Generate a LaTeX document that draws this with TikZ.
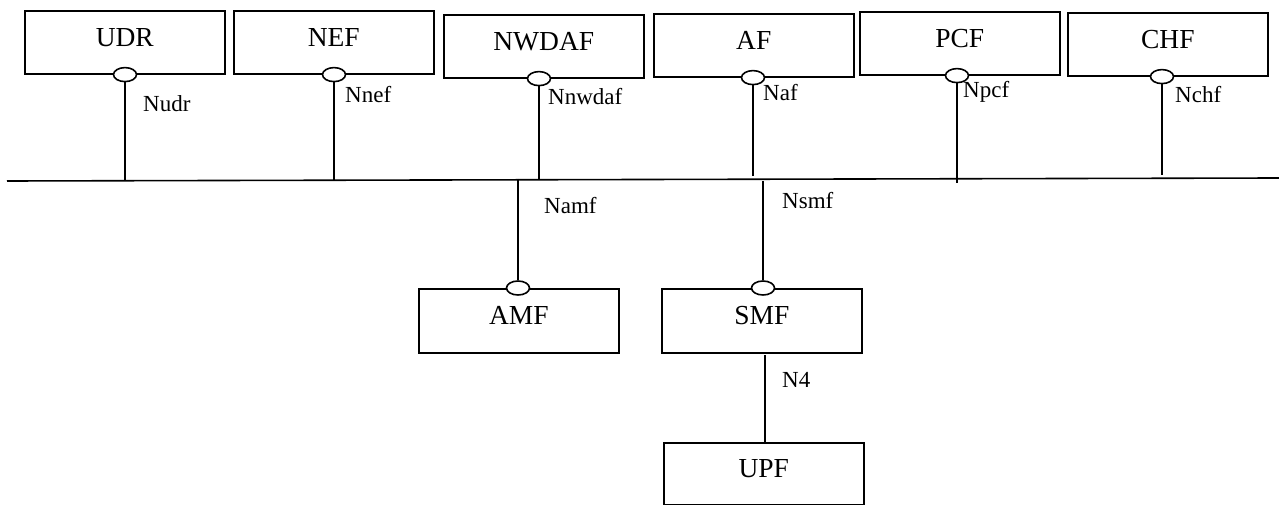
\documentclass[tikz,border=0pt]{standalone}
\usepackage{fontspec}
\setmainfont{Liberation Serif}
\usetikzlibrary{shapes.geometric}

\tikzset{
	nfbox/.style = {draw, line width = 1.6pt, anchor = north west, minimum width = 200pt, minimum height = 63pt, inner sep = 0pt, text height = 18pt, text depth = 10pt, font = \fontsize{27.5}{30}\selectfont},
	port/.style = {draw, ellipse, line width = 1.6pt, fill = white, minimum width = 23pt, minimum height = 14pt, inner sep = 0pt},
	link/.style = {line width = 1.6pt},
	iflabel/.style = {anchor = base west, inner sep = 0pt, font = \fontsize{23}{26}\selectfont}
}

\begin{document}
\begin{tikzpicture}[x = 1pt, y = -1pt]
	\useasboundingbox (0,0) rectangle (1279,505);

	% service bus
	\coordinate (busw) at (7,181);
	\coordinate (buse) at (1279,178);
	\draw [link] (busw) -- (buse);

	% functions above the bus
	\foreach \nm/\txt/\x/\y/\px/\by/\lab/\lx/\ly in
		{udr/UDR/24/10/125/181/Nudr/143/112,
		 nef/NEF/233/10/334/181/Nnef/345/103,
		 nwdaf/NWDAF/443/14/539/180/Nnwdaf/548/105,
		 af/AF/653/13/753/176/Naf/763/101,
		 pcf/PCF/859/11/957/183/Npcf/963/98,
		 chf/CHF/1067/12/1162/175/Nchf/1175/103}
	{
		\node [nfbox] (\nm) at (\x,\y) {\txt};
		\node [port] (\nm-p) at (\px,0 |- \nm.south) {};
		\coordinate (\nm-b) at (\px,\by);
		\draw [link] (\nm-p) -- (\nm-b);
		\node [iflabel] (\nm-l) at (\lx,\ly) {\lab};
	}

	% functions below the bus
	\foreach \nm/\txt/\x/\px/\by/\lab/\lx/\ly in
		{amf/AMF/418/518/179/Namf/544/213,
		 smf/SMF/661/763/181/Nsmf/782/208}
	{
		\node [nfbox, minimum height = 64pt] (\nm) at (\x,288) {\txt};
		\node [port] (\nm-p) at (\px,0 |- \nm.north) {};
		\coordinate (\nm-b) at (\px,\by);
		\draw [link] (\nm-b) -- (\nm-p);
		\node [iflabel] (\nm-l) at (\lx,\ly) {\lab};
	}

	\node [nfbox, minimum height = 62pt] (upf) at (663,442) {UPF};

	% N4
	\coordinate (n4a) at (765,355);
	\coordinate (n4b) at (765,443);
	\draw [link] (n4a) -- (n4b);
	\node [iflabel] (n4-l) at (782,387) {N4};
\end{tikzpicture}
\end{document}
